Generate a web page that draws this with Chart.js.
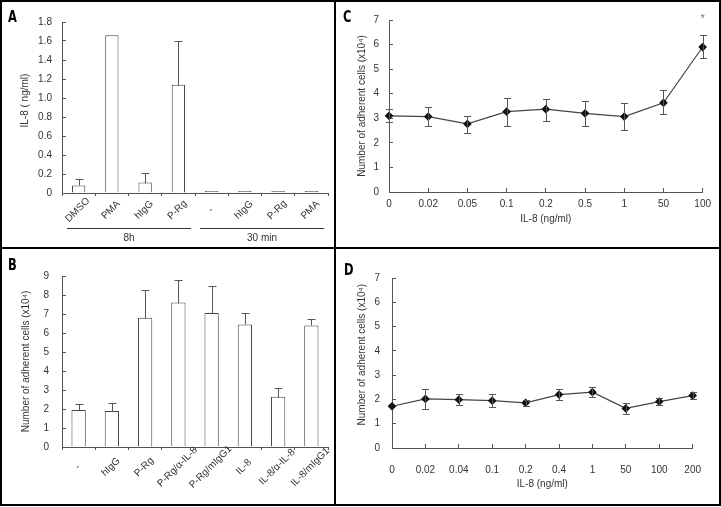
<!DOCTYPE html>
<html>
<head>
<meta charset="utf-8">
<script src="https://cdn.jsdelivr.net/npm/chart.js@4/dist/chart.umd.min.js"></script>
<style>
body { margin: 0; background: #fff; }
#wrap { position: relative; width: 721px; height: 507px; overflow: hidden; background: #fff; }
canvas { position: absolute; }
.rule { position: absolute; background: #000; z-index: 2; }
.tag { position: absolute; z-index: 3; font: bold 15px "DejaVu Sans Condensed", "DejaVu Sans", sans-serif; color: #000; line-height: 18px; transform: scaleX(0.85); transform-origin: left top; }
</style>
</head>
<body>
<div id="wrap">
  <canvas id="chartA" width="334" height="247" style="left:0;top:0"></canvas>
  <canvas id="chartB" width="334" height="259" style="left:0;top:248px"></canvas>
  <canvas id="chartC" width="386" height="247" style="left:335px;top:0"></canvas>
  <canvas id="chartD" width="386" height="259" style="left:335px;top:248px"></canvas>

  <div class="rule" style="left:0;top:0;width:721px;height:2px"></div>
  <div class="rule" style="left:0;top:504px;width:721px;height:2px"></div>
  <div class="rule" style="left:0;top:0;width:2px;height:506px"></div>
  <div class="rule" style="left:719px;top:0;width:2px;height:506px"></div>
  <div class="rule" style="left:334px;top:0;width:2px;height:506px"></div>
  <div class="rule" style="left:0;top:247px;width:721px;height:2px"></div>

  <div class="tag" style="left:8px;top:8px">A</div>
  <div class="tag" style="left:8px;top:256px">B</div>
  <div class="tag" style="left:343px;top:8px">C</div>
  <div class="tag" style="left:344px;top:261px">D</div>
</div>
<script>
// panel A - IL-8 released
var catsA = ['DMSO', 'PMA', 'hIgG', 'P-Rg', '-', 'hIgG', 'P-Rg', 'PMA'];
var valsA = [0.08, 1.66, 0.11, 1.14, 0.004, 0.01, 0.005, 0.005];
var topA = [0.15, 1.66, 0.21, 1.60, 0.004, 0.01, 0.005, 0.005];
var groupsA = ['8h', '30 min'];
var groupFirstA = [0, 4];
var groupLastA = [3, 7];
var ticksA = [0, 0.2, 0.4, 0.6, 0.8, 1.0, 1.2, 1.4, 1.6, 1.8];

// panel B - adherent cells
var catsB = ['-', 'hIgG', 'P-Rg', 'P-Rg/\u03b1-IL-8', 'P-Rg/mIgG1', 'IL-8', 'IL-8/\u03b1-IL-8', 'IL-8/mIgG1'];
var valsB = [1.95, 1.9, 6.8, 7.6, 7.05, 6.45, 2.65, 6.4];
var topB = [2.28, 2.32, 8.25, 8.8, 8.5, 7.05, 3.1, 6.72];
var ticksB = [0, 1, 2, 3, 4, 5, 6, 7, 8, 9];

// panel C - IL-8 dose
var catsC = ['0', '0.02', '0.05', '0.1', '0.2', '0.5', '1', '50', '100'];
var valsC = [3.1, 3.07, 2.77, 3.27, 3.37, 3.2, 3.07, 3.63, 5.9];
var loC = [2.85, 2.67, 2.4, 2.7, 2.9, 2.7, 2.51, 3.16, 5.47];
var hiC = [3.36, 3.45, 3.08, 3.83, 3.79, 3.72, 3.64, 4.14, 6.4];
var marksC = ['', '', '', '', '', '', '', '', '*'];

// panel D - IL-8 dose
var catsD = ['0', '0.02', '0.04', '0.1', '0.2', '0.4', '1', '50', '100', '200'];
var valsD = [1.72, 2.02, 1.99, 1.95, 1.86, 2.2, 2.3, 1.63, 1.91, 2.16];
var loD = [1.72, 1.62, 1.76, 1.67, 1.73, 1.98, 2.1, 1.42, 1.77, 2.0];
var hiD = [1.72, 2.42, 2.22, 2.22, 1.98, 2.42, 2.52, 1.84, 2.06, 2.32];
var ticksCD = [0, 1, 2, 3, 4, 5, 6, 7];

var FONT = '"Liberation Sans", Arial, sans-serif';
var AXIS = '#555';
var yTitle = 'Number of adherent cells (x10\u2074)';

Chart.defaults.font.family = FONT;
Chart.defaults.font.size = 10;
Chart.defaults.color = '#333';
Chart.defaults.animation = false;
Chart.defaults.plugins.legend.display = false;
Chart.defaults.plugins.tooltip.enabled = false;

function errorBars(low, high, cap, bothEnds) {
    return {
        id: 'errorBars',
        afterDatasetsDraw: function (chart) {
            var ctx = chart.ctx, y = chart.scales.y;
            var pts = chart.getDatasetMeta(0).data;
            ctx.save();
            ctx.strokeStyle = AXIS;
            ctx.lineWidth = 1;
            pts.forEach(function (p, i) {
                if (high[i] - low[i] < 0.001) return;
                var x = Math.round(p.x) + 0.5;
                var y1 = Math.round(y.getPixelForValue(low[i])) + 0.5;
                var y2 = Math.round(y.getPixelForValue(high[i])) + 0.5;
                ctx.beginPath();
                ctx.moveTo(x, y1);
                ctx.lineTo(x, y2);
                ctx.moveTo(x - cap, y2);
                ctx.lineTo(x + cap, y2);
                if (bothEnds) {
                    ctx.moveTo(x - cap, y1);
                    ctx.lineTo(x + cap, y1);
                }
                ctx.stroke();
            });
            ctx.restore();
        }
    };
}

// excel style slanted labels, centred under each category
function slantLabels(labels, cy) {
    return {
        id: 'slantLabels',
        afterDraw: function (chart) {
            var ctx = chart.ctx, x = chart.scales.x;
            ctx.save();
            ctx.fillStyle = '#333';
            ctx.font = '10px ' + FONT;
            ctx.textAlign = 'center';
            ctx.textBaseline = 'middle';
            labels.forEach(function (t, i) {
                ctx.save();
                ctx.translate(x.getPixelForValue(i) - 1, cy);
                ctx.rotate(-Math.PI / 4);
                ctx.fillText(t, 0, 0);
                ctx.restore();
            });
            ctx.restore();
        }
    };
}

var groupLabels = {
    id: 'groupLabels',
    afterDraw: function (chart) {
        var ctx = chart.ctx, x = chart.scales.x;
        var half = x.width / catsA.length / 2;
        ctx.save();
        ctx.strokeStyle = '#333';
        ctx.fillStyle = '#333';
        ctx.lineWidth = 1;
        ctx.font = '10px ' + FONT;
        ctx.textAlign = 'center';
        ctx.textBaseline = 'middle';
        groupsA.forEach(function (g, k) {
            var l = x.getPixelForValue(groupFirstA[k]) - half + 5;
            var r = x.getPixelForValue(groupLastA[k]) + half - 4;
            ctx.beginPath();
            ctx.moveTo(l, 228.5);
            ctx.lineTo(r, 228.5);
            ctx.stroke();
            ctx.fillText(g, (l + r) / 2, 238);
        });
        ctx.restore();
    }
};

var starMarks = {
    id: 'starMarks',
    afterDraw: function (chart) {
        var ctx = chart.ctx, y = chart.scales.y;
        var pts = chart.getDatasetMeta(0).data;
        ctx.save();
        ctx.fillStyle = '#666';
        ctx.font = '10px ' + FONT;
        ctx.textAlign = 'center';
        ctx.textBaseline = 'middle';
        marksC.forEach(function (m, i) {
            if (!m) return;
            ctx.fillText(m, pts[i].x, y.getPixelForValue(hiC[i]) - 15);
        });
        ctx.restore();
    }
};

function fixedTicks(list) {
    return function (scale) {
        scale.ticks = list.map(function (v) { return { value: v }; });
    };
}

function barScales(ticks, max, yWidth, xHeight, title, tickPad, fmt) {
    return {
        x: {
            grid: { drawOnChartArea: false, tickLength: 3, color: AXIS },
            border: { color: AXIS },
            ticks: { display: false },
            afterFit: function (s) { s.height = xHeight; }
        },
        y: {
            min: 0, max: max,
            afterBuildTicks: fixedTicks(ticks),
            grid: { drawOnChartArea: false, tickLength: -4, color: AXIS },
            border: { color: AXIS },
            ticks: { padding: tickPad, callback: fmt },
            title: { display: true, text: title, color: '#333' },
            afterFit: function (s) { s.width = yWidth; }
        }
    };
}

function lineScales(yWidth, xHeight, xPad, yPad, title) {
    return {
        x: {
            grid: { drawOnChartArea: false, tickLength: -4, color: AXIS },
            border: { color: AXIS },
            ticks: { padding: xPad, autoSkip: false, maxRotation: 0 },
            title: { display: true, text: 'IL-8 (ng/ml)', color: '#333' },
            afterFit: function (s) { s.height = xHeight; }
        },
        y: {
            min: 0, max: 7,
            afterBuildTicks: fixedTicks(ticksCD),
            grid: { drawOnChartArea: false, tickLength: -4, color: AXIS },
            border: { color: AXIS },
            ticks: { padding: yPad },
            title: { display: true, text: title, color: '#333' },
            afterFit: function (s) { s.width = yWidth; }
        }
    };
}

new Chart(document.getElementById('chartA'), {
    type: 'bar',
    data: {
        labels: catsA,
        datasets: [{
            data: valsA,
            backgroundColor: '#fff',
            borderColor: '#444',
            borderWidth: 1,
            minBarLength: 2,
            barPercentage: 0.4,
            categoryPercentage: 1
        }]
    },
    options: {
        responsive: false,
        layout: { padding: { left: 15, top: 22, right: 6, bottom: 0 } },
        scales: barScales(ticksA, 1.8, 47, 54, '     IL-8 ( ng/ml)', 14,
            function (v) { return v === 0 ? '0' : v.toFixed(1); })
    },
    plugins: [errorBars(valsA, topA, 4, false), slantLabels(catsA, 210), groupLabels]
});

new Chart(document.getElementById('chartB'), {
    type: 'bar',
    data: {
        labels: catsB,
        datasets: [{
            data: valsB,
            backgroundColor: '#fff',
            borderColor: '#444',
            borderWidth: 1,
            barPercentage: 0.43,
            categoryPercentage: 1
        }]
    },
    options: {
        responsive: false,
        layout: { padding: { left: 16, top: 28, right: 6, bottom: 0 } },
        scales: barScales(ticksB, 9, 46, 60, yTitle, 17,
            function (v) { return String(v); })
    },
    plugins: [errorBars(valsB, topB, 4, false), slantLabels(catsB, 219)]
});

new Chart(document.getElementById('chartC'), {
    type: 'line',
    data: {
        labels: catsC,
        datasets: [{
            data: valsC,
            borderColor: '#444',
            borderWidth: 1.2,
            pointStyle: 'rectRot',
            pointRadius: 3.5,
            pointBackgroundColor: '#111',
            pointBorderColor: '#111'
        }]
    },
    options: {
        responsive: false,
        layout: { padding: { left: 17, top: 19, right: 18, bottom: 18 } },
        scales: lineScales(37, 37, 10, 14, yTitle)
    },
    plugins: [errorBars(loC, hiC, 3.5, true), starMarks]
});

new Chart(document.getElementById('chartD'), {
    type: 'line',
    data: {
        labels: catsD,
        datasets: [{
            data: valsD,
            borderColor: '#444',
            borderWidth: 1.2,
            pointStyle: 'rectRot',
            pointRadius: 3.5,
            pointBackgroundColor: '#111',
            pointBorderColor: '#111'
        }]
    },
    options: {
        responsive: false,
        layout: { padding: { left: 17, top: 30, right: 18, bottom: 13 } },
        scales: lineScales(40, 46, 20, 16, '      ' + yTitle)
    },
    plugins: [errorBars(loD, hiD, 3.5, true)]
});
</script>
</body>
</html>
